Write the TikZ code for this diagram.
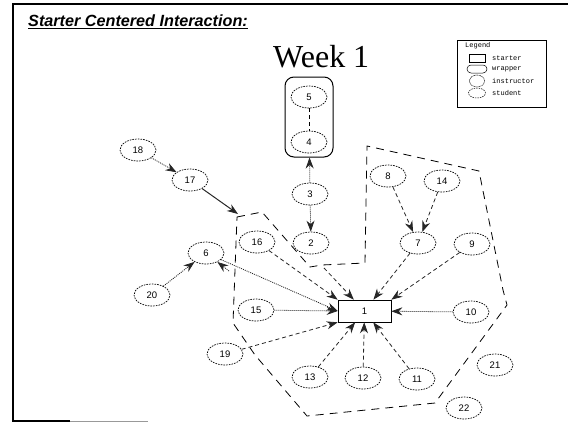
\documentclass[tikz,border=0pt]{standalone}
\usepackage{fontspec}
\setmainfont{Liberation Sans}
\newfontfamily\wkfont{Liberation Serif}
\newfontfamily\legfont{Liberation Mono}
\usetikzlibrary{shapes.geometric,arrows.meta}
\begin{document}
\begin{tikzpicture}[x=1pt,y=-1pt,
  stu/.style={ellipse,draw,line width=0.7pt,dash pattern=on 1.6pt off 1.1pt,minimum width=36pt,minimum height=22pt,inner sep=0pt,font=\fontsize{9.5}{10}\selectfont},
  startbox/.style={rectangle,draw,line width=0.6pt,minimum width=53pt,minimum height=22pt,inner sep=0pt,font=\fontsize{9.5}{10}\selectfont},
  dsh/.style={line width=0.8pt,dash pattern=on 4pt off 3pt},
  dot/.style={line width=0.8pt,dash pattern=on 1pt off 1pt},
  arr/.style={-{Stealth[length=11pt,width=8pt]},color=black!85},
  hull/.style={line width=0.8pt,dash pattern=on 8pt off 6pt},
  legtxt/.style={font=\legfont\fontsize{7}{8}\selectfont,anchor=west,inner sep=0pt},
]
\useasboundingbox (0,0) rectangle (568,423);
% frame
\draw[line width=2pt] (568,4) -- (13,4) -- (13,421) -- (70,421);
\draw[line width=1pt,black!40] (70,421) -- (148,421);
% title
\node[anchor=base west,inner sep=0pt,font=\fontsize{16.2}{18}\selectfont\bfseries\itshape] (title) at (28,27) {\underline{Starter Centered Interaction:}};
\node[anchor=base west,inner sep=0pt,font=\wkfont\fontsize{32}{34}\selectfont] (week) at (273,67) {Week 1};
% legend
\node[draw,line width=0.6pt,minimum width=89pt,minimum height=67pt,inner sep=0pt] (leg) at (501.5,73.5) {};
\node[legtxt] (legt) at (465,46) {Legend};
\node[draw,line width=0.5pt,minimum width=16pt,minimum height=8pt,inner sep=0pt] (ls) at (477,58) {};
\node[legtxt] (lst) at (492,58) {starter};
\node[draw,line width=0.5pt,rounded corners=4pt,minimum width=20pt,minimum height=8pt,inner sep=0pt] (lw) at (477,69) {};
\node[legtxt] (lwt) at (492,69) {wrapper};
\node[ellipse,draw,line width=0.5pt,dash pattern=on 1pt off 0.6pt,minimum width=15pt,minimum height=12pt,inner sep=0pt] (li) at (477,81) {};
\node[legtxt] (lit) at (492,81) {instructor};
\node[ellipse,draw,line width=0.5pt,dash pattern=on 1.5pt off 1pt,minimum width=17pt,minimum height=10pt,inner sep=0pt] (lsd) at (477,93) {};
\node[legtxt] (lsdt) at (492,93) {student};
% wrapper
\node[draw,line width=1pt,rounded corners=9pt,minimum width=48pt,minimum height=80pt,inner sep=0pt] (wrap) at (309,117) {};
\node[stu] (5) at (309,97) {5};
\node[stu] (4) at (309,142) {4};
% hull
\draw[hull] (237,217) -- (262,212) -- (310,267) -- (322,265) -- (365,263) -- (367,146) -- (479,171) -- (503,290) -- (507,305) -- (435,403) -- (307,416) -- (255,355) -- (233,323) -- cycle;
% nodes
\node[stu] (3) at (310,194) {3};
\node[stu] (2) at (311,243) {2};
\node[stu] (18) at (138,150) {18};
\node[stu] (17) at (190,180) {17};
\node[stu] (16) at (257,242) {16};
\node[stu] (6) at (206,253) {6};
\node[stu] (20) at (152,295) {20};
\node[stu] (15) at (256,310) {15};
\node[stu] (19) at (225,354) {19};
\node[stu] (13) at (310,377) {13};
\node[stu] (12) at (363,378) {12};
\node[stu] (11) at (417,379) {11};
\node[stu] (10) at (471,312) {10};
\node[stu] (9) at (472,244) {9};
\node[stu] (7) at (418,243) {7};
\node[stu] (8) at (388,176) {8};
\node[stu] (14) at (442,181) {14};
\node[stu] (21) at (495,365) {21};
\node[stu] (22) at (464,408) {22};
\node[startbox] (1) at (364.5,311) {1};
\coordinate (gA) at (238,214);
\coordinate (hk) at (324,268);
\coordinate (s6) at (229,271);
% connectors
\draw[dsh,line width=1pt] (5) -- (4);
\draw[dot,arr] (3) -- (wrap);
\draw[dot,arr] (3) -- (2);
\draw[dot,arr] (18) -- (17);
\draw[line width=1pt,arr] (17) -- (gA);
\draw[dot,arr] (20) -- (6);
\draw[dot,arr] (s6) -- (6);
\draw[dsh,arr] (8) -- (7);
\draw[dsh,arr] (14) -- (7);
\draw[dsh,arr] (7) -- (1);
\draw[dsh,arr] (9) -- (1.north east);
\draw[dot,arr] (10) -- (1);
\draw[dsh,arr] (16) -- (1.north west);
\draw[dsh,arr] (hk) -- (1);
\draw[dot,arr] (6) -- (1.west);
\draw[dot,arr] (15) -- (1.west);
\draw[dsh,arr] (19) -- (1.south west);
\draw[dsh,arr] (13) -- (1);
\draw[dsh,arr] (12) -- (1);
\draw[dsh,arr] (11) -- (1);
\end{tikzpicture}
\end{document}
